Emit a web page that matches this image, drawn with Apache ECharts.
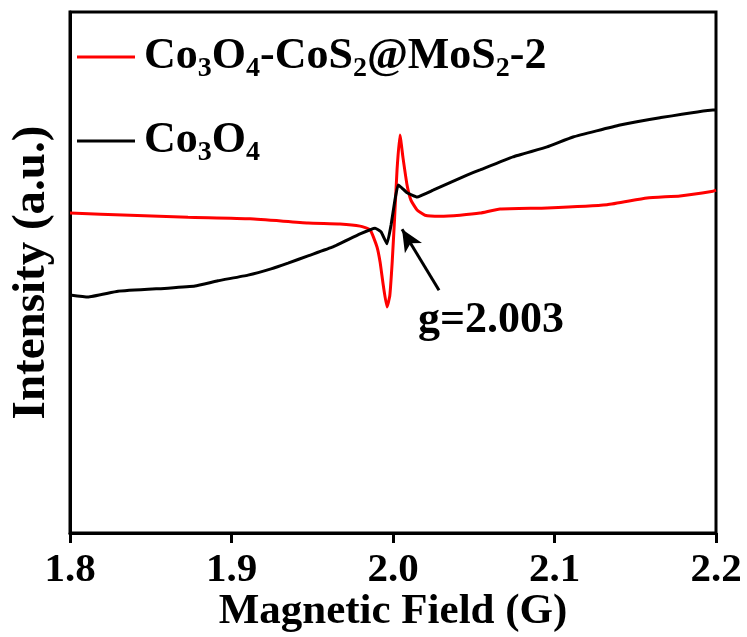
<!DOCTYPE html>
<html>
<head>
<meta charset="utf-8">
<script src="https://cdn.jsdelivr.net/npm/echarts@6/dist/echarts.min.js"></script>
<style>
  html, body { margin: 0; padding: 0; background: #fff; }
  #chart { width: 747px; height: 637px; }
</style>
</head>
<body>
<div id="chart"></div>
<script>
// EPR spectra: magnetic field (G) vs. intensity (a.u.)
const seriesNames = ['Co3O4-CoS2@MoS2-2', 'Co3O4'];

// Co3O4-CoS2@MoS2-2 : [field, intensity]
const compositeSpectrum = [
  [1.8000, 61.4], [1.8372, 61.0], [1.8731, 60.6], [1.9115, 60.3], [1.9474, 59.5],
  [1.9672, 59.3], [1.9796, 58.9], [1.9858, 58.2], [1.9901, 54.9], [1.9920, 52.0],
  [1.9940, 47.5], [1.9963, 43.4], [1.9980, 45.5], [1.9995, 52.0], [2.0010, 60.5],
  [2.0025, 69.7], [2.0043, 76.4], [2.0062, 72.0], [2.0087, 66.8], [2.0111, 63.9],
  [2.0149, 62.0], [2.0198, 61.0], [2.0291, 60.8], [2.0415, 61.0], [2.0539, 61.4],
  [2.0663, 62.2], [2.0954, 62.4], [2.1325, 63.0], [2.1573, 64.3], [2.1777, 64.7],
  [2.1981, 65.6], [2.2000, 65.8]
];

// Co3O4 : [field, intensity]
const oxideSpectrum = [
  [1.8000, 45.7], [1.8111, 45.3], [1.8297, 46.4], [1.8607, 47.0], [1.8774, 47.4],
  [1.8916, 48.4], [1.9102, 49.5], [1.9245, 50.7], [1.9350, 51.8], [1.9474, 53.2],
  [1.9628, 54.9], [1.9796, 57.4], [1.9889, 58.5], [1.9926, 57.8], [1.9963, 55.5],
  [1.9988, 59.1], [2.0012, 63.9], [2.0031, 66.8], [2.0056, 66.2], [2.0087, 65.3],
  [2.0149, 64.5], [2.0248, 65.8], [2.0458, 68.7], [2.0539, 69.7], [2.0743, 72.2],
  [2.0954, 74.1], [2.1115, 76.0], [2.1406, 78.3], [2.1653, 79.7], [2.1981, 81.2],
  [2.2000, 81.2]
];

const xTicks = [1.8, 1.9, 2.0, 2.1, 2.2];

// g-factor annotation: arrow tail, arrow head, label anchor
const arrowTail = [2.0285, 46.6];
const arrowHead = [2.0056, 58.3];
const gLabelAt = [2.0607, 40.7];
const gLabelText = 'g=2.003';

const SERIF = '"Liberation Serif", "Times New Roman", serif';

const legendRich = {
  n: { fontFamily: SERIF, fontWeight: 'bold', fontSize: 44, color: '#000', lineHeight: 52, verticalAlign: 'middle' },
  s: { fontFamily: SERIF, fontWeight: 'bold', fontSize: 28, color: '#000', lineHeight: 52, verticalAlign: 'bottom', padding: [14, 0, 0, 0] }
};

function legendLabel(name) {
  if (name === seriesNames[0]) {
    return '{n|Co}{s|3}{n|O}{s|4}{n|-CoS}{s|2}{n|@MoS}{s|2}{n|-2}';
  }
  return '{n|Co}{s|3}{n|O}{s|4}';
}

const chart = echarts.init(document.getElementById('chart'), null, { renderer: 'canvas' });

chart.setOption({
  animation: false,
  backgroundColor: '#fff',
  grid: {
    left: 70, right: 31, top: 12, bottom: 104,
    show: true, borderColor: '#000', borderWidth: 3,
    outerBoundsMode: 'none'
  },
  legend: {
    orient: 'vertical',
    left: 72, top: 30,
    itemGap: 36,
    itemWidth: 58, itemHeight: 3,
    icon: 'rect',
    data: seriesNames,
    formatter: legendLabel,
    textStyle: { rich: legendRich, padding: [0, 0, 0, 4] }
  },
  xAxis: {
    type: 'value',
    min: 1.8, max: 2.2, interval: 0.1,
    name: 'Magnetic Field (G)',
    nameLocation: 'middle',
    nameGap: 57,
    nameMoveOverlap: false,
    nameTextStyle: { fontFamily: SERIF, fontWeight: 'bold', fontSize: 43, color: '#000' },
    axisLine: { show: true, onZero: false, lineStyle: { color: '#000', width: 3 } },
    axisTick: { show: true, inside: false, length: 10, lineStyle: { color: '#000', width: 3 } },
    axisLabel: {
      margin: 17,
      fontFamily: SERIF, fontWeight: 'bold', fontSize: 41, color: '#000',
      formatter: v => xTicks.find(t => Math.abs(t - v) < 1e-6).toFixed(1)
    },
    splitLine: { show: false }
  },
  yAxis: {
    type: 'value',
    min: 0, max: 100,
    name: 'Intensity (a.u.)',
    nameLocation: 'middle',
    nameGap: 15,
    nameRotate: 90,
    nameMoveOverlap: false,
    nameTextStyle: { fontFamily: SERIF, fontWeight: 'bold', fontSize: 47, color: '#000' },
    axisLine: { show: true, lineStyle: { color: '#000', width: 3 } },
    axisTick: { show: false },
    axisLabel: { show: false },
    splitLine: { show: false }
  },
  series: [
    {
      name: seriesNames[0],
      type: 'line',
      data: compositeSpectrum,
      showSymbol: false,
      symbol: 'none',
      smooth: 0.15,
      lineStyle: { color: '#ff0000', width: 3 },
      itemStyle: { color: '#ff0000' },
      z: 2
    },
    {
      name: seriesNames[1],
      type: 'line',
      data: oxideSpectrum,
      showSymbol: false,
      symbol: 'none',
      smooth: 0.1,
      lineStyle: { color: '#000', width: 3 },
      itemStyle: { color: '#000' },
      z: 3,
      markLine: {
        silent: true,
        symbol: ['none', 'arrow'],
        symbolSize: [15, 22],
        lineStyle: { color: '#000', width: 3, type: 'solid' },
        label: { show: false },
        data: [[{ coord: arrowTail }, { coord: arrowHead }]]
      },
      markPoint: {
        silent: true,
        symbol: 'circle',
        symbolSize: 1,
        itemStyle: { color: 'rgba(0,0,0,0)' },
        data: [{ coord: gLabelAt, value: 0 }],
        label: {
          show: true,
          position: 'inside',
          formatter: gLabelText,
          fontFamily: SERIF, fontWeight: 'bold', fontSize: 44, color: '#000'
        }
      }
    }
  ]
});
</script>
</body>
</html>
